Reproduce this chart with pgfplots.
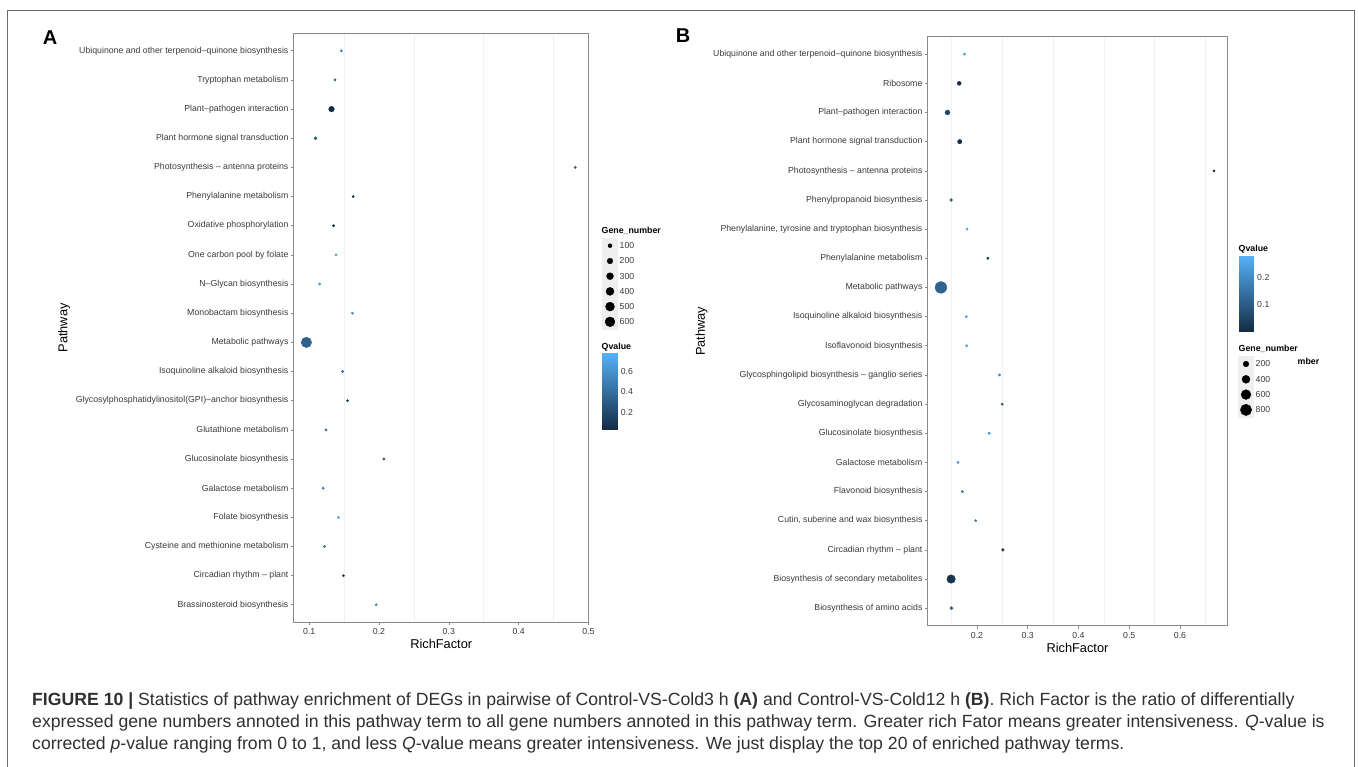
\documentclass[border=0pt]{standalone}
\usepackage{pgfplots}
\pgfplotsset{compat=1.18}
\usepackage{pgfplotstable}
\usepackage{fontspec}
\setmainfont{Liberation Sans}
\definecolor{framegray}{HTML}{6A6A6A}
\definecolor{axgray}{HTML}{8A8A8A}
\definecolor{lblgray}{HTML}{3A3A3A}
\definecolor{keygray}{HTML}{EFEFEF}
\definecolor{gridc}{HTML}{F1F1F1}
\definecolor{captext}{HTML}{303030}
\tikzset{
  leglab/.style={anchor=west, font=\fontsize{8.7}{9}\selectfont, text=lblgray, inner sep=0pt},
  legtitle/.style={anchor=west, font=\fontsize{8.8}{9}\bfseries, inner sep=0pt},
  caption/.style={anchor=base west, inner sep=0pt, text=captext, font=\fontsize{17.65}{20}\selectfont},
}
\pgfplotsset{
  colormap={gg}{rgb255(0cm)=(19,43,67); rgb255(1cm)=(86,177,247)},
  /pgf/number format/assume math mode=true,
  dotplot/.style={
    scale only axis, height=589pt,
    ymin=0.4, ymax=20.6, ytick={1,...,20},
    tick align=outside, major tick length=3pt, minor tick length=0pt,
    axis line style={draw=axgray, line width=1.1pt},
    every tick/.style={draw=axgray, line width=0.6pt},
    xtick pos=bottom, ytick pos=left,
    xminorgrids, minor x grid style={draw=gridc, line width=0.6pt},
    tick label style={font=\fontsize{8.75}{9}\selectfont, text=lblgray},
    yticklabel style={inner sep=2pt},
    xticklabel style={/pgf/number format/fixed, /pgf/number format/precision=1, inner sep=2pt, yshift=-1pt},
    xlabel style={font=\fontsize{12.8}{14}\selectfont, at={(axis description cs:0.5,0)}, anchor=center, yshift=-22pt},
    ylabel style={font=\fontsize{12.8}{14}\selectfont, anchor=center},
    colormap name=gg, clip=false,
  },
  dots/.style={scatter, only marks, mark=*,
    scatter/use mapped color={draw=mapped color, fill=mapped color},
    visualization depends on={max(1.2,0.2*sqrt(\thisrow{g})) \as \rad},
    scatter/@pre marker code/.append style={/tikz/mark size=\rad}},
  cbar/.style={scale only axis, xmin=0, xmax=1, colormap name=gg,
    axis line style={draw=none}, xtick=\empty,
    yticklabel pos=right, ytick pos=both, tick align=inside, major tick length=3pt,
    every tick/.style={draw=white!75!gray, line width=0.5pt},
    yticklabel style={font=\fontsize{8.7}{9}\selectfont, text=lblgray, /pgf/number format/fixed, /pgf/number format/precision=1}},
}
% RichFactor, pathway index (1 = bottom), Qvalue, Gene number
\pgfplotstableread{
id rf q g
20 0.146 0.50 25
19 0.137 0.33 25
18 0.132 0.03 200
17 0.109 0.30 60
16 0.481 0.35 15
15 0.163 0.10 20
14 0.135 0.07 40
13 0.1385 0.70 12
12 0.115 0.65 15
11 0.162 0.55 12
10 0.096 0.33 680
9 0.148 0.36 15
8 0.155 0.15 18
7 0.124 0.42 30
6 0.207 0.25 15
5 0.120 0.45 25
4 0.142 0.72 12
3 0.122 0.40 30
2 0.149 0.10 30
1 0.196 0.50 15
}\tabA
\pgfplotstableread{
id rf q g
20 0.1754 0.26 15
19 0.165 0.01 100
18 0.142 0.06 150
17 0.166 0.01 120
16 0.667 0.03 12
15 0.149 0.12 60
14 0.1805 0.25 12
13 0.2215 0.02 25
12 0.129 0.12 850
11 0.179 0.25 12
10 0.1795 0.25 12
9 0.2445 0.18 10
8 0.2497 0.10 15
7 0.224 0.20 15
6 0.1626 0.22 20
5 0.171 0.16 25
4 0.1975 0.17 20
3 0.251 0.01 50
2 0.149 0.02 450
1 0.1497 0.12 70
}\tabB
% size legends (pixel positions)
\pgfplotstableread{
x y g
610 245.7 100
610 261.0 200
610 276.2 300
610 291.4 400
610 306.6 500
610 321.8 600
}\legA
\pgfplotstableread{
x y g
1246 364.0 200
1246 379.3 400
1246 394.6 600
1246 409.9 800
}\legB
\begin{document}
\begin{tikzpicture}
\useasboundingbox (0,0) rectangle (1358pt,767pt);
% ---------- Panel A ----------
\begin{axis}[dotplot, at={(293.6pt,144.7pt)}, anchor=south west, width=295.3pt,
  xmin=0.0777, xmax=0.5006, xtick={0.1,0.2,0.3,0.4,0.5},
  minor xtick={0.15,0.25,0.35,0.45},
  point meta min=0.026, point meta max=0.781,
  yticklabels={Brassinosteroid biosynthesis, Circadian rhythm – plant, Cysteine and methionine metabolism, Folate biosynthesis, Galactose metabolism, Glucosinolate biosynthesis, Glutathione metabolism, Glycosylphosphatidylinositol(GPI)–anchor biosynthesis, Isoquinoline alkaloid biosynthesis, Metabolic pathways, Monobactam biosynthesis, N–Glycan biosynthesis, One carbon pool by folate, Oxidative phosphorylation, Phenylalanine metabolism, Photosynthesis – antenna proteins, Plant hormone signal transduction, Plant–pathogen interaction, Tryptophan metabolism, Ubiquinone and other terpenoid–quinone biosynthesis},
  xlabel={RichFactor}, ylabel={Pathway},
  ylabel style={at={(axis description cs:-0.7775,0.5)}}]
\addplot[dots, point meta=\thisrow{q}] table[x=rf, y=id] {\tabA};
\end{axis}
% ---------- Panel B ----------
\begin{axis}[dotplot, at={(927.6pt,141.3pt)}, anchor=south west, width=299.7pt,
  xmin=0.1027, xmax=0.6932, xtick={0.2,0.3,0.4,0.5,0.6},
  minor xtick={0.15,0.25,0.35,0.45,0.55,0.65},
  point meta min=0.0036, point meta max=0.278,
  yticklabels={Biosynthesis of amino acids, Biosynthesis of secondary metabolites, Circadian rhythm – plant, {Cutin, suberine and wax biosynthesis}, Flavonoid biosynthesis, Galactose metabolism, Glucosinolate biosynthesis, Glycosaminoglycan degradation, Glycosphingolipid biosynthesis – ganglio series, Isoflavonoid biosynthesis, Isoquinoline alkaloid biosynthesis, Metabolic pathways, Phenylalanine metabolism, {Phenylalanine, tyrosine and tryptophan biosynthesis}, Phenylpropanoid biosynthesis, Photosynthesis – antenna proteins, Plant hormone signal transduction, Plant–pathogen interaction, Ribosome, Ubiquinone and other terpenoid–quinone biosynthesis},
  xlabel={RichFactor}, ylabel={Pathway},
  ylabel style={at={(axis description cs:-0.7538,0.5)}}]
\addplot[dots, point meta=\thisrow{q}] table[x=rf, y=id] {\tabB};
\end{axis}
% ---------- Colour bars ----------
\begin{axis}[cbar, at={(602pt,337pt)}, anchor=south west, width=15.3pt, height=76.7pt,
  ymin=0.026, ymax=0.781, point meta min=0.026, point meta max=0.781, ytick={0.2,0.4,0.6}]
\addplot[patch, shader=interp, point meta=y] coordinates {(0,0.026) (1,0.026) (1,0.781) (0,0.026) (1,0.781) (0,0.781)};
\end{axis}
\begin{axis}[cbar, at={(1238.7pt,435.3pt)}, anchor=south west, width=15pt, height=76pt,
  ymin=0.0036, ymax=0.278, point meta min=0.0036, point meta max=0.278, ytick={0.1,0.2}]
\addplot[patch, shader=interp, point meta=y] coordinates {(0,0.0036) (1,0.0036) (1,0.278) (0,0.0036) (1,0.278) (0,0.278)};
\end{axis}
% ---------- Overlay: frame, legends, labels, caption ----------
\begin{axis}[at={(0pt,0pt)}, anchor=south west, scale only axis, width=1358pt, height=767pt,
  xmin=0, xmax=1358, ymin=0, ymax=767, y dir=reverse, hide axis, clip=false]
\draw[framegray, line width=0.9pt] (axis cs:7.3,767) -- (axis cs:7.3,10) -- (axis cs:1354,10) -- (axis cs:1354,767);
\node[font=\fontsize{20}{22}\bfseries] at (axis cs:50,37.5) {A};
\node[font=\fontsize{20}{22}\bfseries] at (axis cs:683,36) {B};
% size legend A
\addplot[only marks, mark=square*, mark size=7.4, mark options={draw=keygray, fill=keygray}] table[x=x,y=y] {\legA};
\addplot[dots, point meta=0, colormap={blk}{color=(black) color=(black)}] table[x=x,y=y] {\legA};
\node[legtitle] at (axis cs:601.5,230.7) {Gene\_number};
\node[leglab] at (axis cs:619.5,245.7) {100};
\node[leglab] at (axis cs:619.5,261.0) {200};
\node[leglab] at (axis cs:619.5,276.2) {300};
\node[leglab] at (axis cs:619.5,291.4) {400};
\node[leglab] at (axis cs:619.5,306.6) {500};
\node[leglab] at (axis cs:619.5,321.8) {600};
\node[legtitle] at (axis cs:601.5,346.7) {Qvalue};
% size legend B
\addplot[only marks, mark=square*, mark size=7.4, mark options={draw=keygray, fill=keygray}] table[x=x,y=y] {\legB};
\addplot[dots, point meta=0, colormap={blk}{color=(black) color=(black)}] table[x=x,y=y] {\legB};
\node[legtitle] at (axis cs:1238.5,349) {Gene\_number};
\node[leglab] at (axis cs:1255.5,364.0) {200};
\node[leglab] at (axis cs:1255.5,379.3) {400};
\node[leglab] at (axis cs:1255.5,394.6) {600};
\node[leglab] at (axis cs:1255.5,409.9) {800};
\node[legtitle] at (axis cs:1297.5,361.7) {mber};
\node[legtitle] at (axis cs:1238.5,249) {Qvalue};
% caption
\node[caption] at (axis cs:32,705) {\textbf{FIGURE 10 |} Statistics of pathway enrichment of DEGs in pairwise of Control-VS-Cold3 h \textbf{(A)} and Control-VS-Cold12 h \textbf{(B)}. Rich Factor is the ratio of differentially};
\node[caption] at (axis cs:32,727) {expressed gene numbers annoted in this pathway term to all gene numbers annoted in this pathway term. Greater rich Fator means greater intensiveness. \textit{Q}-value is};
\node[caption] at (axis cs:32,749) {corrected \textit{p}-value ranging from 0 to 1, and less \textit{Q}-value means greater intensiveness. We just display the top 20 of enriched pathway terms.};
\end{axis}
\end{tikzpicture}
\end{document}
